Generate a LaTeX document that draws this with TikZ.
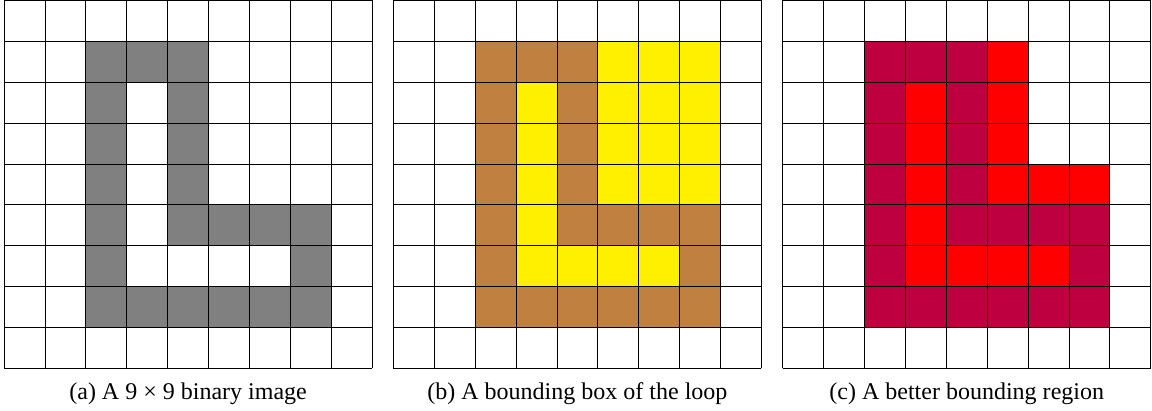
\documentclass[tikz,border=0pt]{standalone}
\usepackage{fontspec}
\setmainfont{Liberation Serif}
\usepackage{xcolor}
\usepackage{tikz}
\definecolor{loopgray}{HTML}{808080}
\definecolor{loopbrown}{HTML}{C08040}
\definecolor{boxyellow}{HTML}{FFF000}
\definecolor{loopcrimson}{HTML}{BF0040}
\definecolor{regionred}{HTML}{FF0000}
\tikzset{
  gridline/.style={draw=black,line width=0.6pt},
  caption/.style={font=\fontsize{16.7}{20}\selectfont,anchor=center},
}
% cells of the loop, as col/row counted from the top
\newcommand{\loopcells}{2/1,3/1,4/1,2/2,4/2,2/3,4/3,2/4,4/4,
  2/5,4/5,5/5,6/5,7/5,2/6,7/6,2/7,3/7,4/7,5/7,6/7,7/7}
\newcommand{\boxcells}{5/1,6/1,7/1,3/2,5/2,6/2,7/2,3/3,5/3,6/3,7/3,
  3/4,5/4,6/4,7/4,3/5,3/6,4/6,5/6,6/6}
\newcommand{\regioncells}{5/1,3/2,5/2,3/3,5/3,3/4,5/4,6/4,7/4,
  3/5,3/6,4/6,5/6,6/6}

\begin{document}
\begin{tikzpicture}[
  cell/.style={fill=#1,draw=none},
]
  \useasboundingbox (-0.1,-10.02) rectangle (28.07,0.01);

  % a binary image
  \begin{scope}
    \foreach \c/\r in \loopcells
      \fill[cell=loopgray] (\c,-\r) rectangle ++(1,-1);
    \draw[gridline] (0,-9) grid (9,0);
    \node[caption] (capA) at (4.5,-9.62) {(a) A 9 × 9 binary image};
  \end{scope}

  % b bounding box
  \begin{scope}[xshift=9.52cm]
    \foreach \c/\r in \loopcells
      \fill[cell=loopbrown] (\c,-\r) rectangle ++(1,-1);
    \foreach \c/\r in \boxcells
      \fill[cell=boxyellow] (\c,-\r) rectangle ++(1,-1);
    \draw[gridline] (0,-9) grid (9,0);
    \node[caption] (capB) at (4.5,-9.62) {(b) A bounding box of the loop};
  \end{scope}

  % c bounding region
  \begin{scope}[xshift=19.04cm]
    \foreach \c/\r in \loopcells
      \fill[cell=loopcrimson] (\c,-\r) rectangle ++(1,-1);
    \foreach \c/\r in \regioncells
      \fill[cell=regionred] (\c,-\r) rectangle ++(1,-1);
    \draw[gridline] (0,-9) grid (9,0);
    \node[caption] (capC) at (4.5,-9.62) {(c) A better bounding region};
  \end{scope}
\end{tikzpicture}
\end{document}
